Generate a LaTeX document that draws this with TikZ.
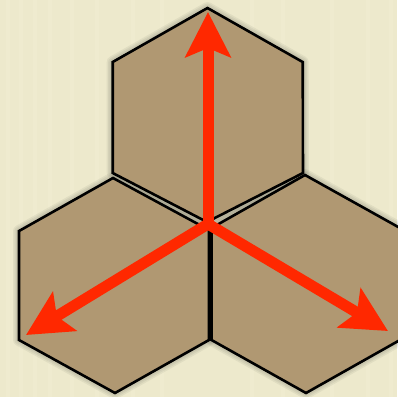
\documentclass[tikz,border=0pt]{standalone}
\usetikzlibrary{arrows.meta}
\definecolor{bgcream}{RGB}{237,233,204}
\definecolor{bgline}{RGB}{244,241,217}
\definecolor{card}{RGB}{176,152,114}
\definecolor{redarrow}{RGB}{255,40,0}
\tikzset{
  hexbox/.style={fill=card, draw=black, line width=2.6pt, line join=miter},
  hexshadow/.style={draw=black, line width=#1, opacity=0.05, line join=round},
  redvec/.style={draw=redarrow, line width=11pt, -{Stealth[length=45pt,width=45pt,inset=9pt]}}
}
\begin{document}
\begin{tikzpicture}[x=1pt,y=-1pt]
\useasboundingbox (0,0) rectangle (397,397);
\fill[bgcream] (0,0) rectangle (397,397);
\foreach \xx in {6,19,33,48,70,95,131,160,250,281,330,366,389}
  \fill[bgline, opacity=0.3] (\xx,0) rectangle (\xx+4,397);
% shadows
\foreach \w in {12pt,9pt,6pt}{
  \draw[hexshadow=\w] (207.5,8) -- (112.7,62) -- (112.7,173) -- (207,222) -- (303,173) -- (302.7,62) -- cycle;
  \draw[hexshadow=\w] (113,178) -- (19,231) -- (19,340) -- (115,393) -- (209,340) -- (209,230) -- cycle;
  \draw[hexshadow=\w] (305,175) -- (211.5,228) -- (211.5,340) -- (306,393) -- (400,340) -- (400,228) -- cycle;
}
% hexagons
\draw[hexbox] (207.5,8) -- (112.7,62) -- (112.7,173) -- (207,222) -- (303,173) -- (302.7,62) -- cycle;
\draw[hexbox] (113,178) -- (19,231) -- (19,340) -- (115,393) -- (209,340) -- (209,230) -- cycle;
\draw[hexbox] (305,175) -- (211.5,228) -- (211.5,340) -- (306,393) -- (400,340) -- (400,228) -- cycle;
% arrows
\coordinate (c) at (208,224);
\coordinate (up) at (208,12);
\coordinate (bl) at (26,335);
\coordinate (br) at (388,331);
\draw[redvec] (c) -- (up);
\draw[redvec] (c) -- (bl);
\draw[redvec] (c) -- (br);
\end{tikzpicture}
\end{document}
